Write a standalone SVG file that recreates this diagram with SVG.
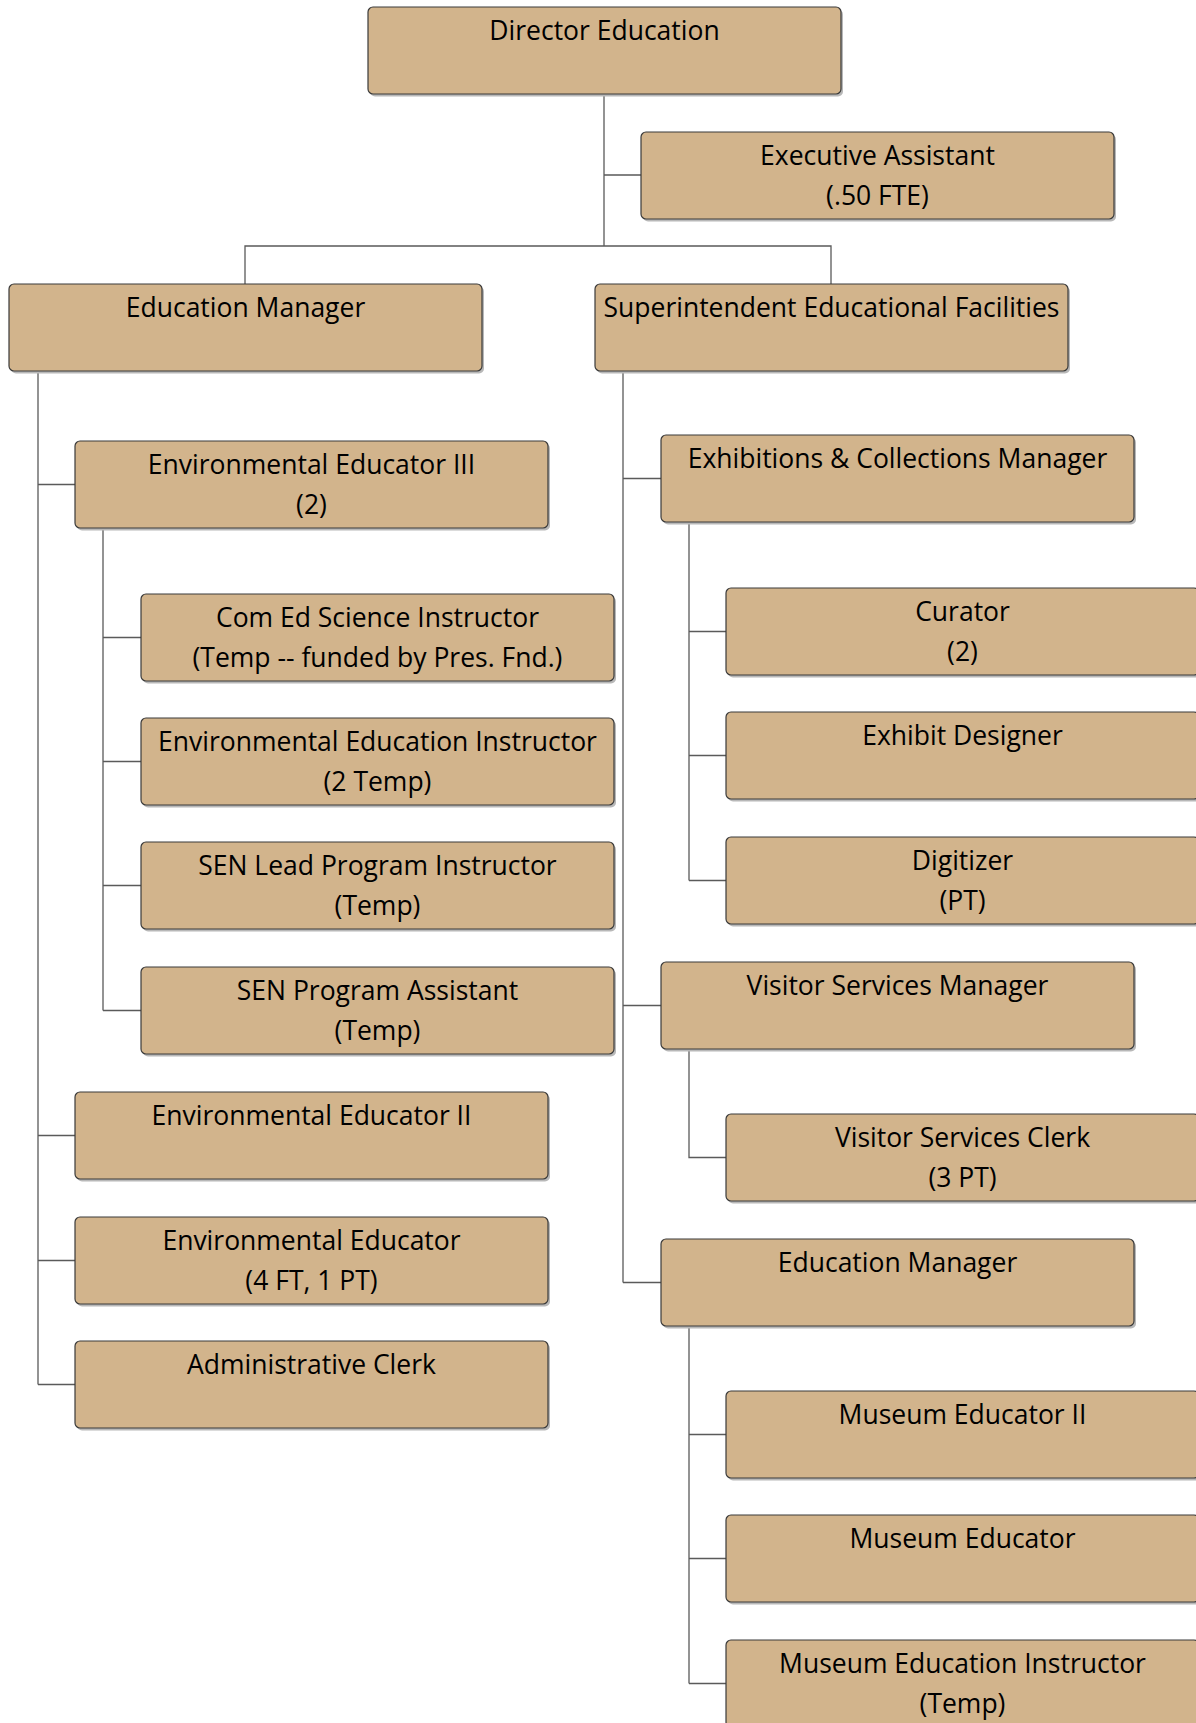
<svg xmlns="http://www.w3.org/2000/svg" width="1196" height="1723" viewBox="0 0 1196 1723">
<style>
.sh{fill:#b8b8b8;}
.bx{fill:#d2b48c;stroke:#3a3a3a;stroke-width:1.2;}
.t{font-family:"Open Sans","Liberation Sans",sans-serif;font-size:26.5px;fill:#000;text-anchor:middle;}
.c{stroke:#5a5a5a;stroke-width:1.3;fill:none;}
</style>
<defs>
<g id="box">
<rect class="sh" x="2" y="2.5" width="473" height="87" rx="5"/>
<rect class="bx" x="0" y="0" width="473" height="87" rx="5"/>
</g>
</defs>
<rect width="1196" height="1723" fill="#fff"/>
<g id="connectors">
<path class="c" d="M604,94V246M604,175H641M245,284V246H831V284"/>
<path class="c" d="M38,371V1384.5M38,484.5H75M38,1135.5H75M38,1260.5H75M38,1384.5H75"/>
<path class="c" d="M103,528V1010.5M103,637.5H141M103,761.5H141M103,885.5H141M103,1010.5H141"/>
<path class="c" d="M623,371V1282.5M623,478.5H661M623,1005.5H661M623,1282.5H661"/>
<path class="c" d="M689,522V880.5M689,631.5H726M689,755.5H726M689,880.5H726"/>
<path class="c" d="M689,1049V1157.5H726"/>
<path class="c" d="M689,1326V1683.5M689,1434.5H726M689,1558.5H726M689,1683.5H726"/>
</g>
<g id="director"><use href="#box" x="368" y="7"/><text class="t" x="604.5" y="40">Director Education</text></g>
<g id="exec"><use href="#box" x="641" y="132"/><text class="t" x="877.5" y="165">Executive Assistant</text><text class="t" x="877.5" y="205">(.50 FTE)</text></g>
<g id="edmgr-left"><use href="#box" x="9" y="284"/><text class="t" x="245.5" y="317">Education Manager</text></g>
<g id="superintendent"><use href="#box" x="595" y="284"/><text class="t" x="831.5" y="317">Superintendent Educational Facilities</text></g>
<g id="ee3"><use href="#box" x="75" y="441"/><text class="t" x="311.5" y="474">Environmental Educator III</text><text class="t" x="311.5" y="514">(2)</text></g>
<g id="comed"><use href="#box" x="141" y="594"/><text class="t" x="377.5" y="627">Com Ed Science Instructor</text><text class="t" x="377.5" y="667">(Temp -- funded by Pres. Fnd.)</text></g>
<g id="eeinstr"><use href="#box" x="141" y="718"/><text class="t" x="377.5" y="751">Environmental Education Instructor</text><text class="t" x="377.5" y="791">(2 Temp)</text></g>
<g id="senlead"><use href="#box" x="141" y="842"/><text class="t" x="377.5" y="875">SEN Lead Program Instructor</text><text class="t" x="377.5" y="915">(Temp)</text></g>
<g id="senpa"><use href="#box" x="141" y="967"/><text class="t" x="377.5" y="1000">SEN Program Assistant</text><text class="t" x="377.5" y="1040">(Temp)</text></g>
<g id="ee2"><use href="#box" x="75" y="1092"/><text class="t" x="311.5" y="1125">Environmental Educator II</text></g>
<g id="ee"><use href="#box" x="75" y="1217"/><text class="t" x="311.5" y="1250">Environmental Educator</text><text class="t" x="311.5" y="1290">(4 FT, 1 PT)</text></g>
<g id="admin"><use href="#box" x="75" y="1341"/><text class="t" x="311.5" y="1374">Administrative Clerk</text></g>
<g id="exhib"><use href="#box" x="661" y="435"/><text class="t" x="897.5" y="468">Exhibitions &amp; Collections Manager</text></g>
<g id="curator"><use href="#box" x="726" y="588"/><text class="t" x="962.5" y="621">Curator</text><text class="t" x="962.5" y="661">(2)</text></g>
<g id="designer"><use href="#box" x="726" y="712"/><text class="t" x="962.5" y="745">Exhibit Designer</text></g>
<g id="digitizer"><use href="#box" x="726" y="837"/><text class="t" x="962.5" y="870">Digitizer</text><text class="t" x="962.5" y="910">(PT)</text></g>
<g id="vsm"><use href="#box" x="661" y="962"/><text class="t" x="897.5" y="995">Visitor Services Manager</text></g>
<g id="vsc"><use href="#box" x="726" y="1114"/><text class="t" x="962.5" y="1147">Visitor Services Clerk</text><text class="t" x="962.5" y="1187">(3 PT)</text></g>
<g id="edmgr-right"><use href="#box" x="661" y="1239"/><text class="t" x="897.5" y="1272">Education Manager</text></g>
<g id="me2"><use href="#box" x="726" y="1391"/><text class="t" x="962.5" y="1424">Museum Educator II</text></g>
<g id="me"><use href="#box" x="726" y="1515"/><text class="t" x="962.5" y="1548">Museum Educator</text></g>
<g id="mei"><use href="#box" x="726" y="1640"/><text class="t" x="962.5" y="1673">Museum Education Instructor</text><text class="t" x="962.5" y="1713">(Temp)</text></g>
</svg>
